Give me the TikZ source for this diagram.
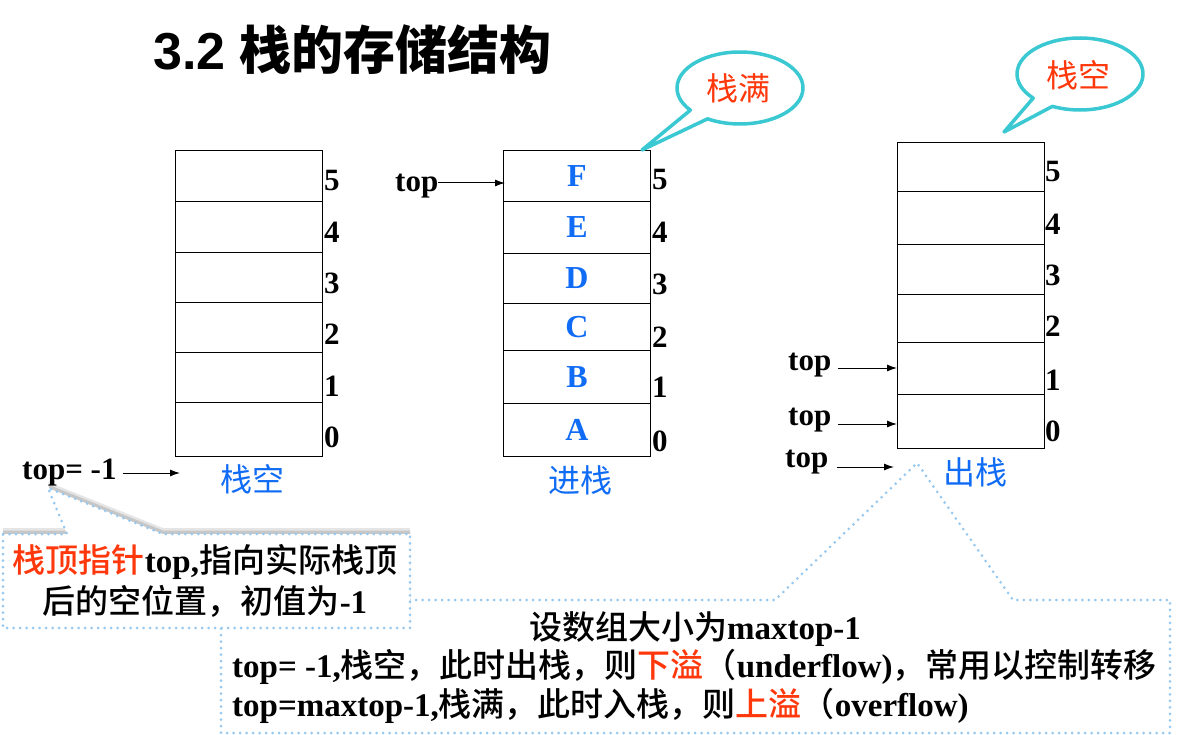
\documentclass[tikz,border=0pt]{standalone}
\usepackage{fontspec}
\setmainfont{Liberation Serif}
\IfFontExistsTF{Noto Sans CJK SC Medium}
  {\newfontfamily\cjk{Noto Sans CJK SC}[BoldFont={Noto Sans CJK SC Medium}]}
  {\newfontfamily\cjk{Noto Sans CJK SC}}
\newfontfamily\cjktitle{Noto Sans CJK SC}
\newfontfamily\arialf{Liberation Sans}
\usetikzlibrary{arrows.meta}
\definecolor{lblue}{RGB}{17,108,245}
\definecolor{lred}{RGB}{255,55,10}
\definecolor{bubc}{RGB}{58,200,210}
\definecolor{dotc}{RGB}{150,200,240}
\newcommand\zh[1]{{\cjk #1}}
\newcommand\fs[1]{\fontsize{#1}{#1}\selectfont}
\tikzset{
  cellbox/.style={draw, line width=1pt, minimum width=147pt, inner sep=0pt, anchor=north west, font=\bfseries\fs{32}, text=lblue},
  idx/.style={font=\bfseries\fs{31}, anchor=west, inner sep=0pt},
  toplbl/.style={font=\bfseries\fs{31}, anchor=base west, inner sep=0pt},
  ptr/.style={-{Latex[length=10pt,width=7pt]}, line width=1pt},
  blbl/.style={font=\cjk\fs{32}, text=lblue, inner sep=0pt},
  rlbl/.style={font=\cjk\fs{32}, text=lred, inner sep=0pt},
  bubble/.style={draw=bubc, line width=3.5pt, fill=white, line join=round},
  dotline/.style={draw=dotc, line width=3pt, dash pattern=on 0pt off 6.5pt, line cap=round, fill=white},
  bodytxt/.style={font=\bfseries\fs{33}, inner sep=0pt},
}
\begin{document}
\begin{tikzpicture}[x=1pt,y=-1pt]
\useasboundingbox (0,0) rectangle (1180,735);

% title
\node[anchor=west, inner sep=0pt, font=\bfseries\fs{52}] (title) at (153,50) {{\arialf 3.2 }{\cjktitle\bfseries 栈的存储结构}};

% stack 1
\foreach \i/\t/\b in {5/150/201,4/201/252,3/252/302,2/302/352,1/352/402,0/402/456}
  \node[cellbox, minimum height={(\b-\t)*1pt}] (s1c\i) at (175,\t) {};
\foreach \i/\y in {5/181,4/232,3/283,2/334,1/386,0/437}
  \node[idx] (s1n\i) at (324,\y) {\i};

% stack 2
\foreach \i/\t/\b/\l in {5/150/201/F,4/201/253/E,3/253/303/D,2/303/350/C,1/350/403/B,0/403/456/A}
  \node[cellbox, minimum height={(\b-\t)*1pt}] (s2c\i) at (503,\t) {\l};
\foreach \i/\y in {5/180,4/232,3/284,2/337,1/387,0/441}
  \node[idx] (s2n\i) at (652,\y) {\i};

% stack 3
\foreach \i/\t/\b in {5/142/191,4/191/244,3/244/294,2/294/342,1/342/394,0/394/448}
  \node[cellbox, minimum height={(\b-\t)*1pt}] (s3c\i) at (897,\t) {};
\foreach \i/\y in {5/172,4/224,3/275,2/326,1/380,0/431}
  \node[idx] (s3n\i) at (1045,\y) {\i};

% bottom callout
\draw[dotline] (221,600) -- (775,600) -- (917,463) -- (1013,600) -- (1170,600) -- (1170,733) -- (221,733) -- cycle;

% left callout with soft shadow
\fill[black!10, yshift=6pt] (3,534) -- (67,534) -- (48,488) -- (163,534) -- (410,534) -- (410,628) -- (3,628) -- cycle;
\fill[black!22, yshift=3.5pt] (3,534) -- (67,534) -- (48,488) -- (163,534) -- (410,534) -- (410,628) -- (3,628) -- cycle;
\draw[dotline] (3,534) -- (67,534) -- (48,488) -- (163,534) -- (410,534) -- (410,628) -- (3,628) -- cycle;

% labels under stacks
\node[blbl] (l1) at (252,479) {栈空};
\node[blbl] (l2) at (580,480) {进栈};
\node[blbl] (l3) at (975,472) {出栈};

% top pointers
\node[toplbl] (t0) at (22,479) {top= -1};
\draw[ptr] ([xshift=6pt,yshift=6pt]t0.base east) -- ([xshift=5pt,yshift=6pt]t0.base east -| s1c0.west);
\node[toplbl] (t2) at (395,192) {top};
\draw[ptr] ([yshift=9pt]t2.base east) -- ([xshift=2pt,yshift=9pt]t2.base east -| s2c5.west);
\node[toplbl] (t3a) at (788,370) {top};
\node[toplbl] (t3b) at (788,425) {top};
\node[toplbl] (t3c) at (785,467) {top};
\draw[ptr] ([xshift=7pt,yshift=2pt]t3a.base east) -- ([yshift=2pt]t3a.base east -| s3c1.west);
\draw[ptr] ([xshift=7pt,yshift=1pt]t3b.base east) -- ([yshift=1pt]t3b.base east -| s3c0.west);
\draw[ptr] ([xshift=9pt]t3c.base east) -- ([xshift=-3pt]t3c.base east -| s3c0.west);

% speech bubbles
\draw[bubble] (740,88) ++(142:63 and 36) arc[start angle=142, end angle=481, x radius=63, y radius=36] -- (642,150) -- cycle;
\node[rlbl] (b1) at (738,88) {栈满};
\draw[bubble] (1080,74) ++(138:63 and 36) arc[start angle=138, end angle=476, x radius=63, y radius=36] -- (1004,132) -- cycle;
\node[rlbl] (b2) at (1078,75) {栈空};

% left callout text
\node[bodytxt] (c1) at (205,562) {\zh{\textcolor{lred}{栈顶指针}}top,\zh{指向实际栈顶}};
\node[bodytxt] (c2) at (205,601) {\zh{后的空位置，初值为}-1};

% bottom text
\node[bodytxt] (d1) at (695,629) {\zh{设数组大小为}maxtop-1};
\node[bodytxt, anchor=west] (d2) at (232,667) {top= -1,\zh{栈空，此时出栈，则\textcolor{lred}{下溢}（}underflow)\zh{，常用以控制转移}};
\node[bodytxt, anchor=west] (d3) at (232,706) {top=maxtop-1,\zh{栈满，此时入栈，则\textcolor{lred}{上溢}（}overflow)};
\end{tikzpicture}
\end{document}
